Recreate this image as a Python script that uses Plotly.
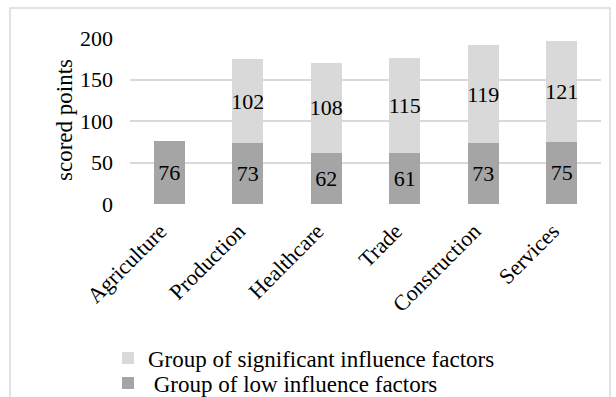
import plotly.graph_objects as go

categories = ["Agriculture", "Production", "Healthcare", "Trade", "Construction", "Services"]
low_influence = [76, 73, 62, 61, 73, 75]
significant_influence = [None, 102, 108, 115, 119, 121]
y_ticks = [0, 50, 100, 150, 200]
y_title = "scored points"

FONT = "Liberation Serif, Times New Roman, serif"
FS = 22
W, H = 616, 397
ML, MR, MT, MB = 130, 15, 38, 193

fig = go.Figure()
fig.add_trace(go.Bar(
    x=categories, y=low_influence, name=" Group of low influence factors",
    marker=dict(color="#a5a5a5", line=dict(width=0)),
    text=low_influence, textposition="inside", insidetextanchor="middle",
    textangle=0, constraintext="none", legend="legend2",
    textfont=dict(family=FONT, size=FS, color="black"), width=0.4,
))
fig.add_trace(go.Bar(
    x=categories, y=significant_influence, name="Group of significant influence factors",
    marker=dict(color="#d9d9d9", line=dict(width=0)),
    text=significant_influence, textposition="inside", insidetextanchor="middle",
    textangle=0, constraintext="none", legend="legend",
    textfont=dict(family=FONT, size=FS, color="black"), width=0.4,
))

pw = W - ML - MR
ph = H - MT - MB
# chart border
fig.add_shape(type="rect", xref="paper", yref="paper",
              x0=(10 - ML) / pw, x1=(610 - ML) / pw,
              y0=(H - MB - 420) / ph, y1=(H - MB - 8) / ph,
              line=dict(color="#d9d9d9", width=1.5), fillcolor="rgba(0,0,0,0)", layer="below")

# y-axis title
fig.add_annotation(text=y_title, textangle=-90, showarrow=False,
                   xref="paper", yref="paper", x=(64 - ML) / pw, y=(H - MB - 120) / ph,
                   xanchor="center", yanchor="middle",
                   font=dict(family=FONT, size=23, color="black"))

leg_common = dict(orientation="v", xref="container", yref="container",
                  xanchor="left", yanchor="middle", font=dict(family=FONT, size=23),
                  bgcolor="rgba(0,0,0,0)", borderwidth=0)
fig.update_layout(
    width=W, height=H, barmode="stack",
    margin=dict(l=ML, r=MR, t=MT, b=MB, autoexpand=False),
    paper_bgcolor="white", plot_bgcolor="white",
    font=dict(family=FONT, size=FS, color="black"),
    showlegend=True,
    legend=dict(x=108 / W, y=1 - 358 / H, **leg_common),
    legend2=dict(x=108 / W, y=1 - 383 / H, **leg_common),
)
fig.update_xaxes(range=[-0.5, 5.5], tickangle=-45, showgrid=False, showline=False,
                 ticks="", ticklabelstandoff=9, ticklabelshift=-9,
                 tickfont=dict(family=FONT, size=FS))
fig.update_yaxes(range=[0, 200], tickvals=y_ticks, showgrid=True, gridcolor="#d9d9d9",
                 gridwidth=1.5, zeroline=False, showline=False, ticks="",
                 ticklabelstandoff=16,
                 tickfont=dict(family=FONT, size=FS))

fig.write_html("out.html", config={"displayModeBar": False},
               post_script="document.body.style.margin='0';")
